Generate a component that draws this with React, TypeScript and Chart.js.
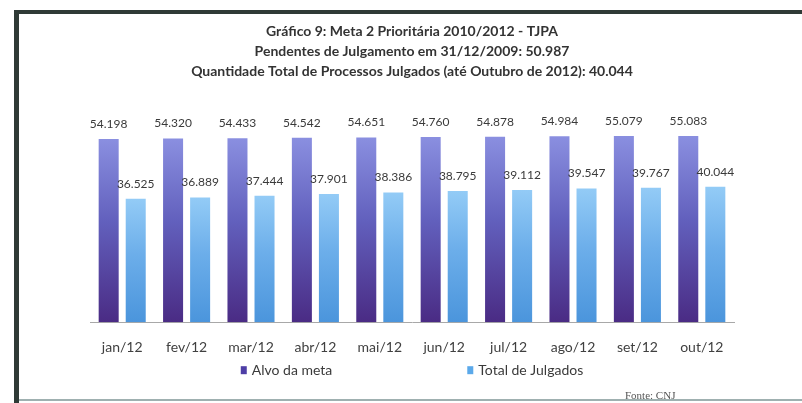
import React, { useEffect, useRef } from "react";
import { Chart, registerables } from "chart.js";

Chart.register(...registerables);

const categories = ["jan/12", "fev/12", "mar/12", "abr/12", "mai/12", "jun/12", "jul/12", "ago/12", "set/12", "out/12"];
const alvoDaMeta = [54198, 54320, 54433, 54542, 54651, 54760, 54878, 54984, 55079, 55083];
const totalJulgados = [36525, 36889, 37444, 37901, 38386, 38795, 39112, 39547, 39767, 40044];
const seriesNames = ["Alvo da meta", "Total de Julgados"];
const titleLines = [
  "Gráfico 9: Meta 2 Prioritária 2010/2012 - TJPA",
  "Pendentes de Julgamento em 31/12/2009: 50.987",
  "Quantidade Total de Processos Julgados (até Outubro de 2012): 40.044",
];
const sourceText = "Fonte: CNJ";

const fmt = (v: number) => String(v).replace(/\B(?=(\d{3})+(?!\d))/g, ".");

const purpleStops = ["#8a8fe0", "#6260bd", "#4a2b84"];
const blueStops = ["#93cbf6", "#6caeea", "#4b95dc"];
const legendColors = ["#4e3ea6", "#5ba9ea"];

function barGradient(stops: string[]) {
  return (ctx: any) => {
    const chart = ctx.chart;
    if (!chart.chartArea || ctx.type !== "data") return stops[1];
    const y = chart.scales.y;
    const top = y.getPixelForValue(ctx.raw);
    const bot = y.getPixelForValue(0);
    const g = chart.ctx.createLinearGradient(0, top, 0, bot);
    g.addColorStop(0, stops[0]);
    g.addColorStop(0.45, stops[1]);
    g.addColorStop(1, stops[2]);
    return g;
  };
}

const labelPlugin = {
  id: "valueLabelsAndLegend",
  afterDatasetsDraw(chart: any) {
    const ctx = chart.ctx;
    ctx.save();
    ctx.font = "12px Lato";
    ctx.fillStyle = "#3a3a3a";
    ctx.textAlign = "center";
    ctx.textBaseline = "middle";
    chart.data.datasets.forEach((ds: any, i: number) => {
      const meta = chart.getDatasetMeta(i);
      meta.data.forEach((bar: any, j: number) => {
        ctx.fillText(fmt(ds.data[j]), bar.x, bar.y - 15);
      });
    });
    ctx.restore();
  },
  afterDraw(chart: any) {
    const ctx = chart.ctx;
    const area = chart.chartArea;
    ctx.save();
    ctx.font = "14px Lato";
    ctx.textBaseline = "middle";
    const boxW = 6;
    const boxH = 8;
    const gapText = 5;
    const gapItems = 135;
    const widths = seriesNames.map((n) => boxW + gapText + ctx.measureText(n).width);
    const total = widths.reduce((a, b) => a + b, 0) + gapItems * (widths.length - 1);
    let x = (area.left + area.right) / 2 - total / 2;
    const y = area.bottom + 48;
    seriesNames.forEach((n, i) => {
      ctx.fillStyle = legendColors[i];
      ctx.fillRect(x, y - boxH / 2, boxW, boxH);
      ctx.fillStyle = "#3a3a3a";
      ctx.textAlign = "left";
      ctx.fillText(n, x + boxW + gapText, y);
      x += widths[i] + gapItems;
    });
    ctx.restore();
  },
};

export default function App() {
  const ref = useRef<HTMLCanvasElement>(null);
  useEffect(() => {
    if (!ref.current) return;
    const chart = new Chart(ref.current, {
      type: "bar",
      data: {
        labels: categories,
        datasets: [
          {
            label: seriesNames[0],
            data: alvoDaMeta,
            backgroundColor: barGradient(purpleStops),
            categoryPercentage: 0.84,
            barPercentage: 0.74,
          },
          {
            label: seriesNames[1],
            data: totalJulgados,
            backgroundColor: barGradient(blueStops),
            categoryPercentage: 0.84,
            barPercentage: 0.74,
          },
        ],
      },
      options: {
        animation: false,
        responsive: false,
        maintainAspectRatio: false,
        layout: { padding: { top: 12, left: 90, right: 68, bottom: 30 } },
        font: { family: "Lato" },
        plugins: {
          legend: { display: false },
          tooltip: { enabled: false },
          title: {
            display: true,
            text: titleLines,
            color: "#333333",
            font: { family: "Lato", size: 14, weight: "bold", lineHeight: 1.4 },
            padding: { top: 10, bottom: 38.6 },
          },
        },
        scales: {
          x: {
            grid: { display: false, drawTicks: false },
            border: { display: true, color: "#a8a8a8", width: 1 },
            ticks: { color: "#404040", font: { family: "Lato", size: 14 }, padding: 17 },
          },
          y: { display: false, min: 0, max: 60000 },
        },
      },
      plugins: [labelPlugin],
    } as any);
    return () => chart.destroy();
  }, []);

  return (
    <div style={{ position: "fixed", left: 0, top: 0, width: 802, height: 403, background: "#ffffff", overflow: "hidden" }}>
      <canvas ref={ref} width={802} height={403} style={{ position: "absolute", left: 0, top: 0, width: 802, height: 403 }} />
      <div style={{ position: "absolute", left: 14, top: 10, width: 788, height: 4, background: "#2f3a36" }} />
      <div style={{ position: "absolute", left: 14, top: 10, width: 5, height: 393, background: "#2f3a36" }} />
      <div style={{ position: "absolute", left: 19, top: 399, width: 783, height: 2, background: "#9fb0b0" }} />
      <div
        style={{
          position: "absolute",
          left: 625,
          top: 387,
          fontFamily: "'Liberation Serif', serif",
          fontSize: 11,
          color: "#555555",
          lineHeight: "16px",
          whiteSpace: "nowrap",
        }}
      >
        {sourceText}
      </div>
    </div>
  );
}
